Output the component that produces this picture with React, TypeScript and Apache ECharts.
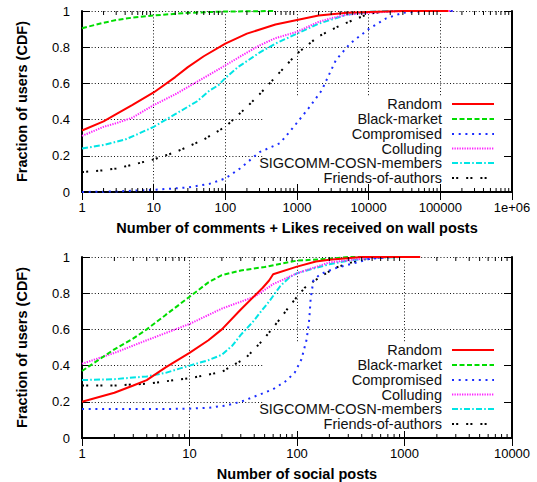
import React, { useEffect, useRef } from "react";
import * as echarts from "echarts";

const FONT = '"Liberation Sans", Arial, Helvetica, sans-serif';

const seriesNames = [
  "Random",
  "Black-market",
  "Compromised",
  "Colluding",
  "SIGCOMM-COSN-members",
  "Friends-of-authors",
];
const seriesColors = ["#ff0000", "#00dd00", "#1a2cff", "#ff22ff", "#00e5e5", "#000000"];
const seriesDash: (number[] | null)[] = [null, [5, 2.5], [2, 4.7], [1.3, 1.2], [6, 2.2, 1.6, 2.2], [2, 2.2, 2, 8]];

// Top panel: comments + likes received on wall posts
const topRandom = [[1,0.34],[2,0.39],[3,0.43],[5,0.48],[10,0.55],[20,0.635],[30,0.69],[50,0.75],[100,0.82],[200,0.875],[500,0.925],[1000,0.95],[2000,0.975],[5000,0.99],[10000,0.995],[30000,1],[130000,1]];
const topBlackMarket = [[1,0.905],[2,0.935],[3,0.95],[5,0.963],[10,0.975],[30,0.99],[100,0.997],[500,1]];
const topCompromised = [[1,0.0],[3,0.003],[10,0.012],[30,0.025],[60,0.045],[100,0.075],[160,0.13],[300,0.22],[580,0.27],[900,0.36],[1500,0.47],[2200,0.56],[3500,0.73],[5500,0.82],[10000,0.90],[17700,0.96],[30000,0.99],[60000,1],[150000,1]];
const topColluding = [[1,0.31],[2,0.36],[3,0.38],[5,0.41],[10,0.48],[20,0.54],[30,0.58],[50,0.63],[100,0.70],[200,0.77],[300,0.81],[500,0.85],[1000,0.885],[2000,0.94],[3000,0.96],[5000,0.98],[10000,0.99],[30000,1],[150000,1]];
const topSigcomm = [[1,0.24],[2,0.26],[4,0.29],[6,0.32],[10,0.36],[20,0.43],[40,0.50],[60,0.56],[80,0.59],[100,0.63],[150,0.69],[300,0.77],[500,0.82],[1000,0.875],[2000,0.93],[5000,0.98],[10000,0.995],[20000,1],[40000,1]];
const topFriends = [[1,0.11],[2,0.12],[3,0.13],[5,0.15],[10,0.18],[20,0.22],[30,0.25],[50,0.29],[100,0.36],[200,0.47],[300,0.54],[500,0.635],[1000,0.765],[2000,0.86],[4000,0.92],[10000,0.985],[20000,1],[50000,1]];

// Bottom panel: number of social posts
const botRandom = [[1,0.20],[2,0.25],[3,0.29],[4,0.32],[6,0.39],[10,0.47],[15,0.54],[20,0.60],[30,0.71],[48,0.83],[55,0.87],[60,0.905],[100,0.947],[150,0.975],[200,0.985],[400,1],[1400,1]];
const botBlackMarket = [[1,0.37],[2,0.49],[3,0.55],[4,0.60],[6,0.68],[10,0.78],[15,0.86],[20,0.90],[30,0.925],[50,0.945],[100,0.98],[200,0.99],[300,1],[500,1]];
const botCompromised = [[1,0.16],[5,0.16],[10,0.162],[15,0.167],[22,0.18],[30,0.20],[45,0.24],[60,0.27],[77,0.31],[95,0.36],[110,0.435],[123,0.545],[130,0.655],[134,0.77],[142,0.87],[164,0.905],[233,0.94],[334,0.965],[475,0.99],[800,1],[1400,1]];
const botColluding = [[1,0.41],[2,0.47],[4,0.54],[10,0.63],[20,0.715],[40,0.78],[60,0.85],[100,0.91],[200,0.97],[400,0.99],[700,1],[1400,1]];
const botSigcomm = [[1,0.32],[2,0.325],[4,0.34],[6,0.36],[10,0.40],[15,0.43],[20,0.46],[25,0.51],[30,0.57],[40,0.65],[45,0.69],[56,0.76],[70,0.84],[86,0.89],[100,0.91],[130,0.93],[200,0.96],[300,0.98],[500,0.995],[1000,1]];
const botFriends = [[1,0.29],[2,0.29],[4,0.30],[10,0.33],[20,0.365],[25,0.40],[33,0.44],[40,0.49],[48,0.54],[58,0.60],[70,0.66],[83,0.72],[100,0.78],[118,0.83],[142,0.865],[175,0.90],[226,0.94],[300,0.965],[415,0.987],[700,1],[1000,1]];

const topData = [topRandom, topBlackMarket, topCompromised, topColluding, topSigcomm, topFriends];
const botData = [botRandom, botBlackMarket, botCompromised, botColluding, botSigcomm, botFriends];

const topXTitle = "Number of comments + Likes received on wall posts";
const botXTitle = "Number of social posts";
const yTitle = "Fraction of users (CDF)";

const topDecades = [1, 10, 100, 1000, 10000, 100000];
const botDecades = [1, 10, 100, 1000];
const minorMultipliers = [2, 3, 4, 5, 6, 7, 8, 9];

const GRIDS = [
  { left: 82, top: 11, width: 430, height: 181 },
  { left: 82, top: 257, width: 430, height: 182 },
];
const legendRows = [
  [104, 119, 134, 148.5, 163, 178],
  [350, 365, 380, 394.5, 409, 424],
];

function minorTicks(decades: number[]) {
  const out: number[][] = [];
  decades.forEach((d) => minorMultipliers.forEach((m) => out.push([d * m, 0])));
  return out;
}

function fmtLog(v: number) {
  if (v >= 1e6) return "1e+06";
  return String(Math.round(v));
}

export default function App() {
  const ref = useRef<HTMLDivElement>(null);
  useEffect(() => {
    if (!ref.current) return;
    const chart = echarts.init(ref.current, undefined, { renderer: "svg" });

    const axisLine = { show: true, lineStyle: { color: "#000", width: 2 } };
    const tickStyle = { show: true, inside: true, length: 8, lineStyle: { color: "#000", width: 1 } };
    const labelStyle = { color: "#000", fontSize: 13, fontFamily: FONT };
    const nameStyle = { color: "#000", fontSize: 14.5, fontWeight: "bold", fontFamily: FONT };
    const split = { show: true, lineStyle: { color: "#111", width: 1, type: [1, 2.2] } };

    const xAxes: any[] = [];
    const yAxes: any[] = [];
    const ranges = [
      { max: 1e6, split: 6, title: topXTitle },
      { max: 1e4, split: 4, title: botXTitle },
    ];
    ranges.forEach((r, g) => {
      xAxes.push({
        type: "log", logBase: 10, min: 1, max: r.max, splitNumber: r.split, gridIndex: g, position: "bottom",
        axisLine, axisTick: tickStyle, splitLine: split,
        axisLabel: { ...labelStyle, margin: 9, formatter: fmtLog, showMinLabel: true, showMaxLabel: true },
        name: r.title, nameLocation: "middle", nameGap: 28, nameTextStyle: nameStyle,
      });
      xAxes.push({
        type: "log", logBase: 10, min: 1, max: r.max, splitNumber: r.split, gridIndex: g, position: "top",
        axisLine, axisTick: tickStyle, splitLine: { show: false }, axisLabel: { show: false },
      });
      yAxes.push({
        type: "value", min: 0, max: 1, interval: 0.2, gridIndex: g, position: "left",
        axisLine, axisTick: tickStyle, splitLine: split,
        axisLabel: { ...labelStyle, margin: 12 },
        name: yTitle, nameLocation: "middle", nameGap: 53, nameTextStyle: nameStyle,
      });
      yAxes.push({
        type: "value", min: 0, max: 1, interval: 0.2, gridIndex: g, position: "right",
        axisLine, axisTick: tickStyle, splitLine: { show: false }, axisLabel: { show: false },
      });
    });

    const series: any[] = [];
    [topData, botData].forEach((panel, g) => {
      panel.forEach((data, i) => {
        series.push({
          type: "line", name: seriesNames[i], xAxisIndex: g * 2, yAxisIndex: g * 2,
          data, showSymbol: false, symbol: "none", silent: true,
          lineStyle: {
            color: seriesColors[i], width: 2,
            type: seriesDash[i] ? seriesDash[i] : "solid", cap: "butt",
          },
          z: 10 - i,
        });
      });
      series.push({
        type: "custom", xAxisIndex: g * 2, yAxisIndex: g * 2, silent: true, z: 20,
        data: minorTicks(g === 0 ? topDecades : botDecades),
        renderItem: (_p: any, api: any) => {
          const v = api.value(0);
          const b = api.coord([v, 0]);
          const t = api.coord([v, 1]);
          return {
            type: "group",
            children: [
              { type: "line", shape: { x1: b[0], y1: b[1], x2: b[0], y2: b[1] - 4 }, style: { stroke: "#000", lineWidth: 1 } },
              { type: "line", shape: { x1: t[0], y1: t[1], x2: t[0], y2: t[1] + 4 }, style: { stroke: "#000", lineWidth: 1 } },
            ],
          };
        },
      });
    });

    const graphic: any[] = [];
    GRIDS.forEach((gr, g) => {
      const rows = legendRows[g];
      graphic.push({
        type: "rect", z: 1,
        shape: { x: 263, y: rows[0] - 7, width: 241, height: gr.top + gr.height - 8 - (rows[0] - 7) },
        style: { fill: "#fff" },
      });
      rows.forEach((y, i) => {
        graphic.push({
          type: "text", z: 30, x: 442, y,
          style: { text: seriesNames[i], font: `14.5px ${FONT}`, fill: "#111", align: "right", verticalAlign: "middle", textAlign: "right", textVerticalAlign: "middle" },
        });
        graphic.push({
          type: "line", z: 30,
          shape: { x1: 452, y1: y, x2: 494, y2: y },
          style: { stroke: seriesColors[i], lineWidth: 2, lineDash: seriesDash[i] || undefined, lineCap: "butt" },
        });
      });
    });

    chart.setOption({
      animation: false,
      backgroundColor: "#fff",
      grid: GRIDS,
      xAxis: xAxes,
      yAxis: yAxes,
      series,
      graphic,
    });
    return () => chart.dispose();
  }, []);
  return <div ref={ref} style={{ position: "absolute", left: 0, top: 0, width: 537, height: 482 }} />;
}
